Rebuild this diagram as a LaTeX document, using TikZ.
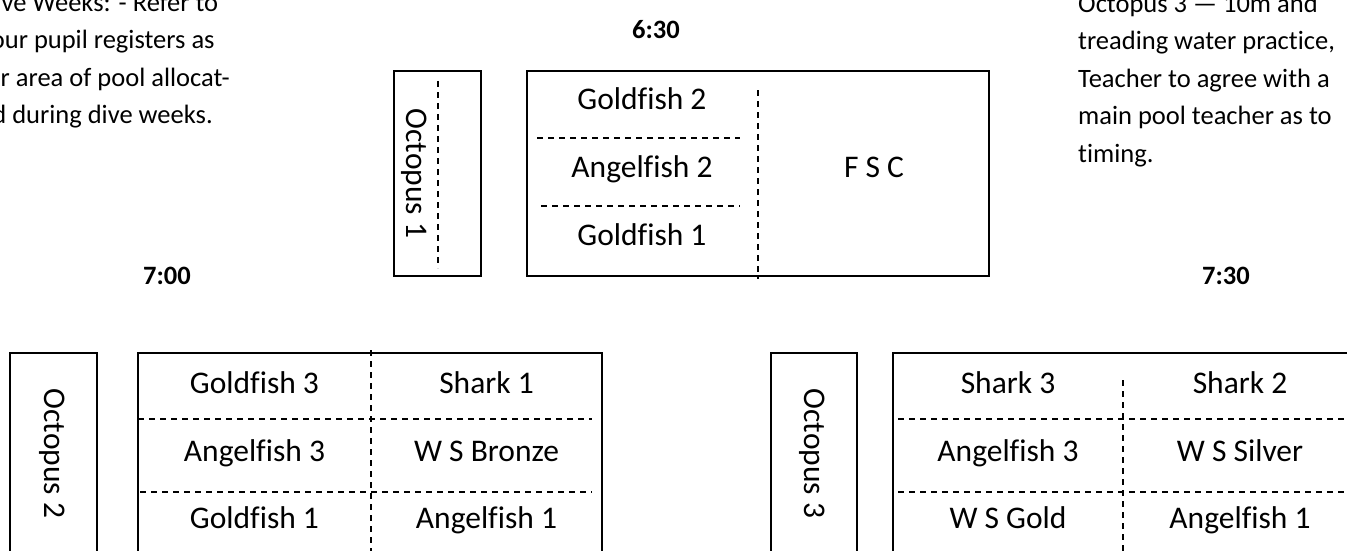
\documentclass[tikz,border=0pt]{standalone}
\usepackage{fontspec}
\setmainfont{Carlito}[Ligatures=NoCommon]
\begin{document}
\begin{tikzpicture}[x=1pt,y=-1pt,
  box/.style={draw, line width=1.5pt, inner sep=0pt},
  div/.style={line width=1.2pt, dash pattern=on 6pt off 5pt},
  lbl/.style={anchor=base, font=\fontsize{31.5}{38}\selectfont, inner sep=0pt},
  vlbl/.style={rotate=-90, font=\fontsize{31.5}{38}\selectfont, inner sep=0pt},
  timelbl/.style={font=\fontsize{26.5}{32}\selectfont\bfseries, inner sep=0pt},
  note/.style={anchor=base west, align=left, font=\fontsize{26.5}{37.5}\selectfont, inner sep=0pt}]
\useasboundingbox (0,0) rectangle (1347,551);
\clip (0,0) rectangle (1347,551);

% notes (base anchor = baseline of the last line)
\node[note] (noteL) at (-21,123.5) {Dive Weeks: - Refer to\\your pupil registers as\\for area of pool allocat-\\ed during dive weeks.};
\node[note] (noteR) at (1078,162) {Octopus 3 — 10m and\\treading water practice,\\Teacher to agree with a\\main pool teacher as to\\timing.};

% times
\node[timelbl] (t630) at (656,30) {6:30};
\node[timelbl] (t700) at (167,276) {7:00};
\node[timelbl] (t730) at (1226,276) {7:30};

% ---- 6:30 ----
\node[box, minimum width=87pt, minimum height=205pt] (oct1) at (437.5,173.5) {};
\draw[div] (438,81) -- (438,268);
\node[vlbl] (oct1t) at (414,173.5) {Octopus 1};

\node[box, minimum width=462pt, minimum height=205pt] (pool1) at (758,173.5) {};
\draw[div] (758,90) -- (758,279);
\draw[div] (537,138) -- (740,138);
\draw[div] (541,206) -- (740,206);
\node[lbl] (g2) at (642,110) {Goldfish 2};
\node[lbl] (a2) at (642,177.5) {Angelfish 2};
\node[lbl] (g1a) at (642,245) {Goldfish 1};
\node[lbl] (fsc) at (874,177.5) {F S C};

% ---- 7:00 ----
\node[box, minimum width=87pt, minimum height=260pt] (oct2) at (53.5,483) {};
\node[vlbl] (oct2t) at (52.5,453.5) {Octopus 2};

\node[box, minimum width=464pt, minimum height=260pt] (pool2) at (370,483) {};
\draw[div] (371,350) -- (371,560);
\draw[div] (138,419) -- (592,419);
\draw[div] (140,492) -- (592,492);
\node[lbl] (g3) at (254.5,393) {Goldfish 3};
\node[lbl] (s1) at (486.5,393) {Shark 1};
\node[lbl] (a3a) at (254.5,461) {Angelfish 3};
\node[lbl] (wsb) at (486.5,461) {W S Bronze};
\node[lbl] (g1b) at (254.5,528) {Goldfish 1};
\node[lbl] (a1a) at (486.5,528) {Angelfish 1};

% ---- 7:30 ----
\node[box, minimum width=86pt, minimum height=260pt] (oct3) at (814,483) {};
\node[vlbl] (oct3t) at (812.5,453.5) {Octopus 3};

\node[box, minimum width=500pt, minimum height=260pt] (pool3) at (1143,483) {};
\draw[div] (1123,380) -- (1123,560);
\draw[div] (898,419) -- (1360,419);
\draw[div] (898,492) -- (1360,492);
\node[lbl] (s3) at (1008,393) {Shark 3};
\node[lbl] (s2) at (1240,393) {Shark 2};
\node[lbl] (a3b) at (1008,461) {Angelfish 3};
\node[lbl] (wss) at (1240,461) {W S Silver};
\node[lbl] (wsg) at (1008,528) {W S Gold};
\node[lbl] (a1b) at (1240,528) {Angelfish 1};
\end{tikzpicture}
\end{document}
